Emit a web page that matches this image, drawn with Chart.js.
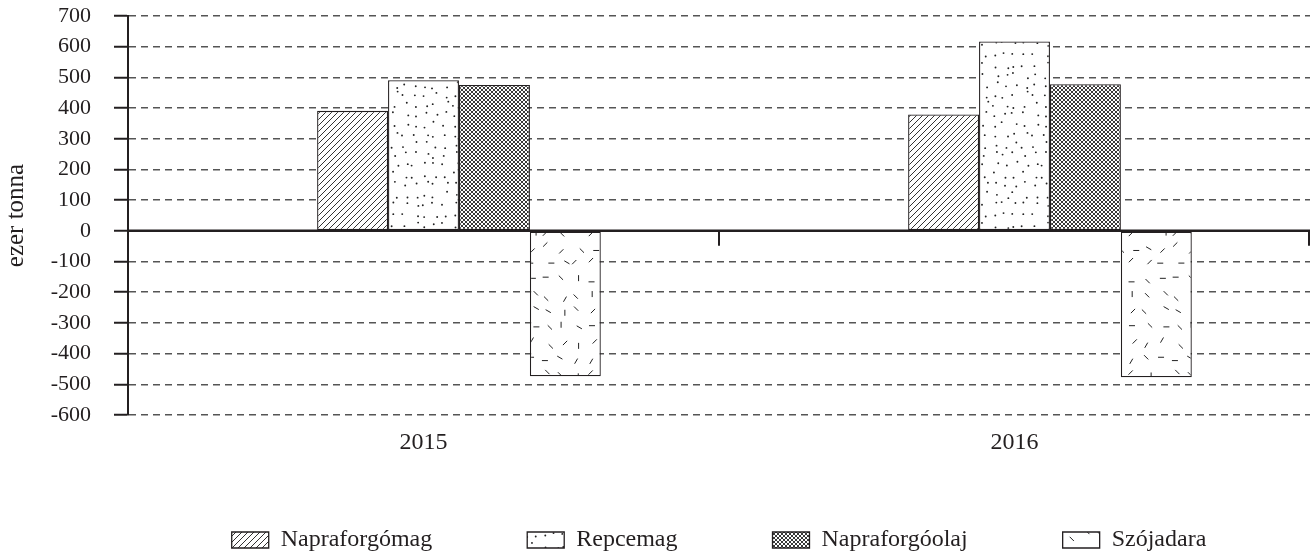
<!DOCTYPE html>
<html>
<head>
<meta charset="utf-8">
<script src="https://cdn.jsdelivr.net/npm/chart.js@4/dist/chart.umd.min.js"></script>
<style>
  html, body { margin: 0; padding: 0; background: #fff; }
  #wrap { width: 1310px; height: 552px; }
</style>
</head>
<body>
<div id="wrap"><canvas id="chart" width="1310" height="552"></canvas></div>
<script>
const years = ['2015', '2016'];
const napraforgomag = [391, 379];
const repcemag = [491, 617];
const napraforgoolaj = [475, 478];
const szojadara = [-474, -477];
const emptySlot = [null, null];   // the empty first slot in each group
const yTicks = [700, 600, 500, 400, 300, 200, 100, 0, -100, -200, -300, -400, -500, -600];

const ink = '#231f20';
const serif = 'Liberation Serif';

// small fixed pseudo random generator so the textures stay the same every time
function seeded(s) {
  return function () {
    s = (s * 16807) % 2147483647;
    return (s - 1) / 2147483646;
  };
}

function tile(w, h) {
  const c = document.createElement('canvas');
  c.width = w; c.height = h;
  const g = c.getContext('2d');
  g.fillStyle = '#fff';
  g.fillRect(0, 0, w, h);
  return [c, g];
}

function hatchPattern() {
  const [c, g] = tile(6, 6);
  g.strokeStyle = '#333'; g.lineWidth = 1;
  g.beginPath();
  g.moveTo(-1, 7); g.lineTo(7, -1);
  g.moveTo(-1, 1); g.lineTo(1, -1);
  g.moveTo(5, 7); g.lineTo(7, 5);
  g.stroke();
  return g.createPattern(c, 'repeat');
}

function crossPattern() {
  const [c, g] = tile(4, 4);
  g.strokeStyle = '#222'; g.lineWidth = 0.9;
  g.beginPath();
  g.moveTo(-1, 5); g.lineTo(5, -1);
  g.moveTo(-1, -1); g.lineTo(5, 5);
  g.stroke();
  return g.createPattern(c, 'repeat');
}

// one mark per grid cell, jittered, so the texture is even
function dotPattern() {
  const [c, g] = tile(90, 160);
  g.fillStyle = '#222';
  const r = seeded(123457);
  for (let y = 0; y < 160; y += 10) {
    for (let x = 0; x < 90; x += 10) {
      g.beginPath();
      g.arc(x + 1.5 + r() * 7, y + 1.5 + r() * 7, 0.95, 0, Math.PI * 2);
      g.fill();
    }
  }
  return g.createPattern(c, 'repeat');
}

function dashPattern() {
  const [c, g] = tile(90, 160);
  g.strokeStyle = '#222'; g.lineWidth = 1;
  const r = seeded(987651);
  const angles = [0, Math.PI / 2, Math.PI / 4, -Math.PI / 4, Math.PI / 6, -Math.PI / 3];
  for (let y = 0; y < 160; y += 16) {
    for (let x = 0; x < 90; x += 15) {
      const cx = x + 4 + r() * 8, cy = y + 4 + r() * 8;
      const a = angles[Math.floor(r() * angles.length)];
      g.beginPath();
      g.moveTo(cx - 3 * Math.cos(a), cy - 3 * Math.sin(a));
      g.lineTo(cx + 3 * Math.cos(a), cy + 3 * Math.sin(a));
      g.stroke();
    }
  }
  return g.createPattern(c, 'repeat');
}

// solid zero line plus the category boundary ticks hanging under it
const zeroLine = {
  id: 'zeroLine',
  afterDatasetsDraw(chart) {
    const {ctx, chartArea, scales} = chart;
    const y0 = scales.y.getPixelForValue(0);
    ctx.save();
    ctx.strokeStyle = ink;
    ctx.lineWidth = 2.5;
    ctx.beginPath();
    ctx.moveTo(chartArea.left, y0);
    ctx.lineTo(chartArea.right, y0);
    ctx.stroke();
    ctx.lineWidth = 2;
    const mid = (scales.x.getPixelForValue(0) + scales.x.getPixelForValue(1)) / 2;
    [mid, chartArea.right - 1].forEach(x => {
      ctx.beginPath();
      ctx.moveTo(x, y0);
      ctx.lineTo(x, y0 + 15);
      ctx.stroke();
    });
    ctx.restore();
  }
};

const bar = (label, data, fill) => ({
  label: label,
  data: data,
  backgroundColor: fill,
  borderColor: ink,
  borderWidth: 1.3,
  borderSkipped: false
});

new Chart(document.getElementById('chart'), {
  type: 'bar',
  data: {
    labels: years,
    datasets: [
      bar('', emptySlot, 'transparent'),
      bar('Napraforgómag', napraforgomag, hatchPattern()),
      bar('Repcemag', repcemag, dotPattern()),
      bar('Napraforgóolaj', napraforgoolaj, crossPattern()),
      bar('Szójadara', szojadara, dashPattern())
    ]
  },
  options: {
    responsive: false,
    animation: false,
    categoryPercentage: 0.6,
    barPercentage: 1,
    layout: { padding: { top: 16, right: 0, bottom: -10, left: 0 } },
    plugins: {
      tooltip: { enabled: false },
      legend: {
        position: 'bottom',
        fullSize: false,
        // empty title with negative padding keeps the legend box short
        title: { display: true, text: '', font: { size: 10 }, padding: { top: -39, bottom: 0 } },
        labels: {
          boxWidth: 37,
          boxHeight: 16,
          padding: 95,
          color: ink,
          font: { family: serif, size: 24 },
          filter: item => item.text !== ''
        }
      }
    },
    scales: {
      x: {
        grid: { display: false },
        border: { display: false },
        ticks: { color: ink, font: { family: serif, size: 24 }, padding: 5 },
        afterFit: s => { s.height = 45; }
      },
      y: {
        min: -600,
        max: 700,
        afterBuildTicks: s => { s.ticks = yTicks.map(v => ({value: v})); },
        ticks: { color: ink, font: { family: serif, size: 22 }, padding: 23, autoSkip: false },
        grid: {
          color: c => c.tick && c.tick.value === 0 ? 'rgba(0,0,0,0)' : '#555',
          lineWidth: 1.5,
          tickLength: 14,
          tickColor: ink,
          tickWidth: 2,
          tickBorderDash: []
        },
        border: { color: ink, width: 2, dash: [7, 5] },
        title: {
          display: true,
          text: 'ezer tonna',
          color: ink,
          font: { family: serif, size: 25 },
          padding: { top: 1, bottom: 0 }
        },
        afterFit: s => {
          s.width = 128;
          s.paddingTop = 0;
          s.paddingBottom = 0;
        }
      }
    }
  },
  plugins: [zeroLine]
});
</script>
</body>
</html>
